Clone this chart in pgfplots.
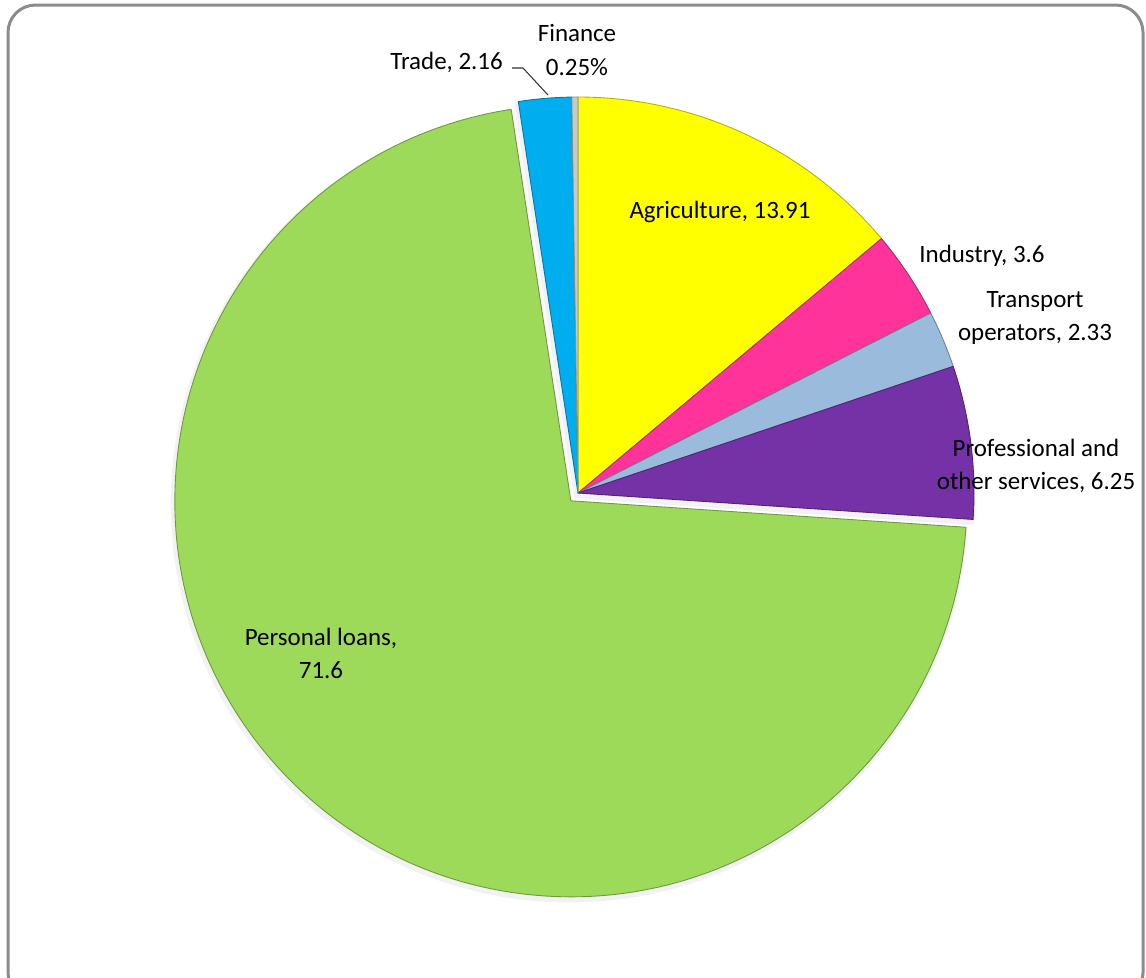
\documentclass[border=0pt]{standalone}
\usepackage{pgfplots}
\pgfplotsset{compat=1.18}
\usepackage{pgfplotstable}
\usepackage{fontspec}
\setmainfont{Carlito}
\definecolor{cAgri}{HTML}{FFFF00}
\definecolor{cInd}{HTML}{FF3399}
\definecolor{cTra}{HTML}{9BBBDC}
\definecolor{cPro}{HTML}{7432A6}
\definecolor{cPer}{HTML}{9EDA5A}
\definecolor{cTrd}{HTML}{00ADEE}
\definecolor{cFin}{HTML}{C8C8C8}
\definecolor{frame}{HTML}{8C8C8C}
\pgfplotstableread[col sep=comma]{
sector,value,color,explode
Agriculture,13.91,cAgri,0
Industry,3.6,cInd,0
Transport operators,2.33,cTra,0
Professional and other services,6.25,cPro,0
Personal loans,71.6,cPer,10.6
Trade,2.16,cTrd,0
Finance,0.25,cFin,0
}\piedata
\newcommand\lbl{\fontsize{14.2}{18.8}\selectfont}
\begin{document}
\begin{tikzpicture}
\pgfplotstablegetrowsof{\piedata}
\pgfmathtruncatemacro\nlast{\pgfplotsretval-1}
\def\total{0}
\pgfplotsforeachungrouped \i in {0,...,\nlast}{%
  \pgfplotstablegetelem{\i}{value}\of\piedata
  \pgfmathsetmacro\total{\total+\pgfplotsretval}}
\def\cum{90}
\pgfplotsforeachungrouped \i in {0,...,\nlast}{%
  \pgfplotstablegetelem{\i}{value}\of\piedata
  \pgfmathsetmacro\sweep{\pgfplotsretval/\total*360}
  \expandafter\xdef\csname sa\i\endcsname{\cum}
  \pgfmathsetmacro\cum{\cum-\sweep}
  \expandafter\xdef\csname ea\i\endcsname{\cum}
  \pgfmathsetmacro\midang{\csname sa\i\endcsname-\sweep/2}
  \expandafter\xdef\csname ma\i\endcsname{\midang}
  \pgfplotstablegetelem{\i}{color}\of\piedata
  \expandafter\xdef\csname col\i\endcsname{\pgfplotsretval}
  \pgfplotstablegetelem{\i}{explode}\of\piedata
  \pgfmathsetmacro\exd{\pgfplotsretval*0.02}
  \expandafter\xdef\csname ex\i\endcsname{\exd}
}
\def\R{7.92cm}
\begin{axis}[width=22.92cm,height=19.54cm,scale only axis,hide axis,
  xmin=0,xmax=1146,ymin=0,ymax=977,y dir=reverse,clip=true]
\path (axis cs:0,0) rectangle (axis cs:1146,977);
\draw[frame, line width=0.06cm, rounded corners=0.55cm] (axis cs:8,5) rectangle (axis cs:1143,1000);
% soft shadows of the slices
\pgfplotsinvokeforeach{0,...,6}{%
  \edef\temp{\noexpand\fill[black!8, draw=black!5, line width=3pt, line join=round,
     shift={(\csname ma#1\endcsname:\csname ex#1\endcsname cm)}, shift={(-0.03cm,-0.06cm)}]
     (axis cs:578,493) -- ++(\csname sa#1\endcsname:\R)
     arc[start angle=\csname sa#1\endcsname, end angle=\csname ea#1\endcsname, radius=\R] -- cycle;}%
  \temp
}
\pgfplotsinvokeforeach{0,...,6}{%
  \edef\temp{\noexpand\fill[fill=\csname col#1\endcsname, draw=\csname col#1\endcsname!70!black, line width=0.5pt, line join=round,
     shift={(\csname ma#1\endcsname:\csname ex#1\endcsname cm)}]
     (axis cs:578,493) -- ++(\csname sa#1\endcsname:\R)
     arc[start angle=\csname sa#1\endcsname, end angle=\csname ea#1\endcsname, radius=\R] -- cycle;}%
  \temp
}
% leader line for Trade
\draw[black!80, line width=0.6pt] (axis cs:512,68) -- (axis cs:523,68) -- (axis cs:548,95);
% labels
\node[font=\lbl, align=center] at (axis cs:577,50) {Finance\\0.25\%};
\node[font=\lbl, anchor=east] at (axis cs:509,62) {Trade, 2.16};
\node[font=\lbl] at (axis cs:720,212) {Agriculture, 13.91};
\node[font=\lbl] at (axis cs:982,256) {Industry, 3.6};
\node[font=\lbl, align=center] at (axis cs:1035,318) {Transport\\operators, 2.33};
\node[font=\lbl, align=center] at (axis cs:1036,466) {Professional and\\other services, 6.25};
\node[font=\lbl, align=center] at (axis cs:321,653) {Personal loans,\\71.6};
\end{axis}
\end{tikzpicture}
\end{document}
